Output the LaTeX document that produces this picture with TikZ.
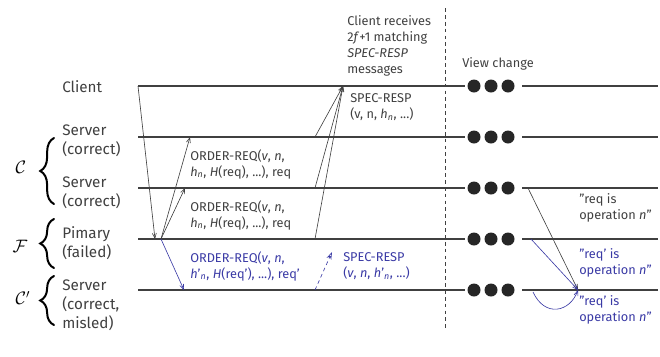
\documentclass[tikz,border=0pt]{standalone}
\usepackage{fontspec}
\setmainfont{Fira Sans}
\usetikzlibrary{arrows.meta,positioning,decorations.pathreplacing}
\definecolor{ink}{RGB}{64,64,64}
\definecolor{misled}{RGB}{58,58,165}

\begin{document}
\begin{tikzpicture}[x=0.8pt,y=-0.8pt,
    every node/.style={text=ink, inner sep=0pt, align=left,
        font=\fontsize{10.2}{12.8}\selectfont},
    timeline/.style={draw=ink, line width=0.9pt},
    msg/.style={draw=ink, line width=0.5pt,
        -{Straight Barb[length=4pt,width=3.2pt]}},
    badmsg/.style={msg, draw=misled},
    role/.style={anchor=west, font=\fontsize{12.2}{15.2}\selectfont},
    group/.style={text=black, font=\Large},
    curly/.style={draw=black, line width=1.6pt, line cap=round,
        decorate, decoration={brace, amplitude=11pt}},
    lbl/.style={anchor=west},
    badlbl/.style={anchor=west, text=misled}]
  \useasboundingbox (0,0) rectangle (660,356);

  % time lines, broken by the view change
  \foreach \name/\y in {client/86, srvA/137, srvB/188, prim/239, srvC/290} {
    \coordinate (\name-w) at (138,\y);
    \coordinate (\name-m) at (465,\y);
    \coordinate (\name-r) at (522,\y);
    \coordinate (\name-e) at (658,\y);
    \draw[timeline] (\name-w) -- (\name-m);
    \draw[timeline] (\name-r) -- (\name-e);
    \foreach \x in {474,491,508}
      \fill[black!85] (\x,\y) circle (5.2pt);
  }

  % roles
  \node[role] (r-client) at (62,87) {Client};
  \node[role] (r-srvA) at (62,141) {Server\\(correct)};
  \node[role] (r-srvB) at (62,193) {Server\\(correct)};
  \node[role] (r-prim) at (62,243) {Pimary\\(failed)};
  \node[role] (r-srvC) at (62,305) {Server\\(correct,\\misled)};

  % groups
  \coordinate (b-good-lo) at (54,204);
  \coordinate (b-good-hi) at (54,138);
  \coordinate (b-fail-lo) at (54,268);
  \coordinate (b-fail-hi) at (54,219);
  \coordinate (b-bad-lo) at (54,325);
  \coordinate (b-bad-hi) at (54,276);
  \draw[curly] (b-good-lo) -- (b-good-hi);
  \draw[curly] (b-fail-lo) -- (b-fail-hi);
  \draw[curly] (b-bad-lo) -- (b-bad-hi);
  \node[group] (g-good) at (21,167) {$\mathcal{C}$};
  \node[group] (g-fail) at (20,246) {$\mathcal{F}$};
  \node[group] (g-bad) at (23,298) {$\mathcal{C}'$};

  % view change
  \coordinate (vc-top) at (445,8);
  \coordinate (vc-bot) at (445,328);
  \draw[ink, line width=0.8pt, dash pattern=on 3pt off 2.5pt] (vc-top) -- (vc-bot);
  \node[lbl] (vc) at (462,64) {View change};

  % request and order
  \coordinate (prim-in) at (155,239);
  \coordinate (prim-out) at (161,239);
  \coordinate (srvA-in) at (190,137);
  \coordinate (srvB-in) at (185,188);
  \coordinate (srvC-in) at (184,290);
  \draw[msg] (client-w) -- (prim-in);
  \draw[msg] (prim-out) -- (srvA-in);
  \draw[msg] (prim-out) -- (srvB-in);
  \draw[badmsg] (prim-out) -- (srvC-in);

  % speculative responses
  \coordinate (client-in) at (343,86);
  \coordinate (srvA-out) at (315,137);
  \coordinate (srvB-out) at (315,188);
  \coordinate (prim-resp) at (315,239);
  \coordinate (srvC-out) at (315,290);
  \coordinate (srvC-to) at (332,252);
  \draw[msg] (srvA-out) -- (client-in);
  \draw[msg] (srvB-out) -- (client-in);
  \draw[msg] (prim-resp) -- (client-in);
  \draw[misled, line width=0.5pt, dash pattern=on 3pt off 2.5pt,
        -{Stealth[open,length=6pt,width=4pt]}] (srvC-out) -- (srvC-to);

  % messages
  \node[lbl] (m-order-a) at (190,164)
    {ORDER-REQ(\textit{v}, \textit{n},\\\textit{h}\textsubscript{\textit{n}}, \textit{H}(req), ...), req};
  \node[lbl] (m-order-b) at (190,215)
    {ORDER-REQ(\textit{v}, \textit{n},\\\textit{h}\textsubscript{\textit{n}}, \textit{H}(req), ...), req};
  \node[badlbl] (m-order-c) at (190,266)
    {ORDER-REQ(\textit{v}, \textit{n},\\\textit{h}'\textsubscript{\textit{n}}, \textit{H}(req'), ...), req'};
  \node[lbl] (m-spec) at (350,107)
    {SPEC-RESP\\(v, n, \textit{h}\textsubscript{\textit{n}}, ...)};
  \node[badlbl] (m-spec-bad) at (343,266)
    {SPEC-RESP\\(\textit{v}, \textit{n}, \textit{h}'\textsubscript{\textit{n}}, ...)};
  \node[lbl] (m-done) at (347,46)
    {Client receives\\2\textit{f}+1 matching\\\textit{SPEC-RESP}\\messages};

  % after the view change
  \coordinate (srvB-vc) at (528,188);
  \coordinate (prim-vc) at (531,239);
  \coordinate (srvC-vc) at (533,292);
  \coordinate (srvC-got) at (578,290);
  \draw[msg] (srvB-vc) -- (srvC-got);
  \draw[badmsg] (prim-vc) -- (srvC-got);
  \draw[badmsg] (srvC-vc) .. controls (545,318) and (570,312) .. (srvC-got);
  \node[lbl] (s-good) at (579,208) {"req is\\operation \textit{n}"};
  \node[badlbl] (s-fail) at (579,263) {"req' is\\operation \textit{n}"};
  \node[badlbl] (s-bad) at (579,310) {"req' is\\operation \textit{n}"};
\end{tikzpicture}
\end{document}
